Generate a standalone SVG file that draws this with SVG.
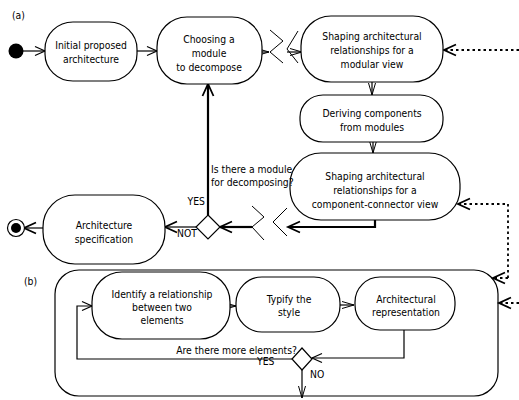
<svg xmlns="http://www.w3.org/2000/svg" width="519" height="400" viewBox="0 0 519 400">
  <defs>
    <style>
      text { font-family: "DejaVu Sans Condensed", "DejaVu Sans", sans-serif; font-size: 10.3px; fill: #000; }
      .c { text-anchor: middle; }
      .node { fill: #fff; stroke: #000; stroke-width: 1.2; }
      .edge { fill: none; stroke: #000; stroke-width: 1.2; }
      .bold { fill: none; stroke: #000; stroke-width: 2.2; }
      .dash { fill: none; stroke: #000; stroke-width: 1.8; stroke-dasharray: 2.5 3; }
      .brk { fill: none; stroke: #000; stroke-width: 1; }
    </style>
    <marker id="open" viewBox="0 0 10 10" refX="10" refY="5" markerWidth="10" markerHeight="10" orient="auto" markerUnits="userSpaceOnUse" overflow="visible">
      <path d="M0,0.5 L10,5 L0,9.5" fill="none" stroke="#000" stroke-width="1.2"/>
    </marker>
    <marker id="openBold" viewBox="0 0 12 12" refX="12" refY="6" markerWidth="12" markerHeight="12" orient="auto" markerUnits="userSpaceOnUse" overflow="visible">
      <path d="M0,0.5 L12,6 L0,11.5" fill="none" stroke="#000" stroke-width="1.8"/>
    </marker>
    <marker id="narrow" viewBox="0 0 12 8" refX="12" refY="4" markerWidth="12" markerHeight="8" orient="auto" markerUnits="userSpaceOnUse" overflow="visible">
      <path d="M0,0.5 L12,4 L0,7.5" fill="none" stroke="#000" stroke-width="1"/>
    </marker>
  </defs>

  <rect width="519" height="400" fill="#fff"/>

  <!-- panel labels -->
  <text x="12" y="19">(a)</text>
  <text x="24" y="285">(b)</text>

  <!-- panel (b) frame -->
  <rect id="panel-b" x="55" y="270" width="443" height="126" rx="24" ry="24" class="node"/>

  <!-- connectors -->
  <g id="connectors">
    <line x1="23" y1="51" x2="45" y2="51" class="edge" marker-end="url(#open)"/>
    <line x1="137" y1="51" x2="157" y2="51" class="edge" marker-end="url(#open)"/>
    <line x1="262" y1="52" x2="269" y2="52" class="edge" marker-end="url(#narrow)"/>
    <polyline points="270,30 283,41 270,52 283,63" class="brk"/>
    <polyline points="298,31 287,49 298,63" class="brk"/>
    <line x1="287" y1="52" x2="302" y2="52" class="edge" marker-end="url(#narrow)"/>
    <line x1="372" y1="82" x2="372" y2="95" class="edge" marker-end="url(#narrow)"/>
    <line x1="373" y1="142" x2="373" y2="153" class="edge" marker-end="url(#narrow)"/>
    <polyline points="375,220 375,227 288,227" class="bold" marker-end="url(#openBold)"/>
    <polyline points="287,208 273,222 287,236" class="brk"/>
    <polyline points="252,206 264,217 252,227 264,240" class="brk"/>
    <line x1="252" y1="227" x2="220" y2="227" class="bold" marker-end="url(#openBold)"/>
    <line x1="208" y1="215" x2="208" y2="84" class="bold" marker-end="url(#openBold)"/>
    <line x1="196" y1="227" x2="165" y2="227" class="edge" stroke-width="1.6" marker-end="url(#openBold)"/>
    <line x1="43" y1="228" x2="24" y2="228" class="edge" stroke-width="1.6" marker-end="url(#openBold)"/>

    <line x1="519" y1="50" x2="444" y2="50" class="dash" marker-end="url(#openBold)"/>
    <polyline points="508,278 508,204 458,204" class="dash" marker-end="url(#openBold)"/>
    <line x1="508" y1="278" x2="493" y2="278" class="dash" marker-end="url(#openBold)"/>
    <line x1="519" y1="303" x2="499" y2="303" class="dash" marker-end="url(#openBold)"/>

    <line x1="230" y1="306" x2="236" y2="306" class="edge" marker-end="url(#narrow)"/>
    <line x1="340" y1="305" x2="354" y2="305" class="edge" marker-end="url(#narrow)"/>
    <polyline points="404,330 404,358 312,358" class="edge" marker-end="url(#open)"/>
    <polyline points="292,359 77,359 77,306 92,306" class="edge" marker-end="url(#open)"/>
    <line x1="302" y1="370" x2="302" y2="398" class="edge" marker-end="url(#narrow)"/>
  </g>

  <!-- panel (a) -->
  <g id="start"><circle cx="16" cy="51" r="7.5" fill="#000"/></g>

  <g id="initial-architecture">
    <rect x="45" y="22" width="92" height="59" rx="28" ry="27" class="node"/>
    <text x="91" y="49" class="c">Initial proposed</text>
    <text x="91" y="63" class="c">architecture</text>
  </g>

  <g id="choosing-module">
    <rect x="157" y="17" width="105" height="67" rx="30" ry="30" class="node"/>
    <text x="209" y="43" class="c">Choosing a</text>
    <text x="209" y="57" class="c">module</text>
    <text x="209" y="71" class="c">to decompose</text>
  </g>

  <g id="shaping-modular">
    <rect x="301" y="16" width="142" height="66" rx="30" ry="30" class="node"/>
    <text x="372" y="40" class="c">Shaping architectural</text>
    <text x="372" y="54" class="c">relationships for a</text>
    <text x="372" y="68" class="c">modular view</text>
  </g>

  <g id="deriving-components">
    <rect x="300" y="95" width="143" height="47" rx="23" ry="22" class="node"/>
    <text x="372" y="117" class="c">Deriving components</text>
    <text x="372" y="131" class="c">from modules</text>
  </g>

  <g id="shaping-cc">
    <rect x="290" y="153" width="170" height="67" rx="31" ry="31" class="node"/>
    <text x="375" y="180" class="c">Shaping architectural</text>
    <text x="375" y="194" class="c">relationships for a</text>
    <text x="375" y="208" class="c">component-connector  view</text>
  </g>

  <g id="decision-a">
    <polygon points="208,215 220,227 208,239 196,227" class="node"/>
    <text x="211" y="173">Is there a module</text>
    <text x="211" y="186">for decomposing?</text>
    <text x="205" y="205" text-anchor="end">YES</text>
    <text x="177" y="237">NOT</text>
  </g>

  <g id="architecture-spec">
    <rect x="43" y="195" width="122" height="69" rx="32" ry="32" class="node"/>
    <text x="104" y="229" class="c">Architecture</text>
    <text x="104" y="243" class="c">specification</text>
  </g>

  <g id="end">
    <circle cx="16" cy="228" r="8.5" fill="#fff" stroke="#000" stroke-width="1.2"/>
    <circle cx="16" cy="228" r="5" fill="#000"/>
  </g>

  <!-- panel (b) -->
  <g id="identify-relationship">
    <rect x="92" y="272" width="138" height="67" rx="30" ry="30" class="node"/>
    <text x="162" y="298" class="c">Identify a relationship</text>
    <text x="162" y="311" class="c">between two</text>
    <text x="162" y="324" class="c">elements</text>
  </g>

  <g id="typify-style">
    <rect x="236" y="277" width="104" height="55" rx="26" ry="26" class="node"/>
    <text x="289" y="303" class="c">Typify  the</text>
    <text x="289" y="316" class="c">style</text>
  </g>

  <g id="architectural-representation">
    <rect x="355" y="277" width="100" height="53" rx="25" ry="25" class="node"/>
    <text x="406" y="303" class="c">Architectural</text>
    <text x="406" y="316" class="c">representation</text>
  </g>

  <g id="decision-b">
    <polygon points="302,348 312,359 302,370 292,359" class="node"/>
    <text x="297" y="354" text-anchor="end">Are there more elements?</text>
    <text x="257" y="365">YES</text>
    <text x="310" y="378">NO</text>
  </g>
</svg>
